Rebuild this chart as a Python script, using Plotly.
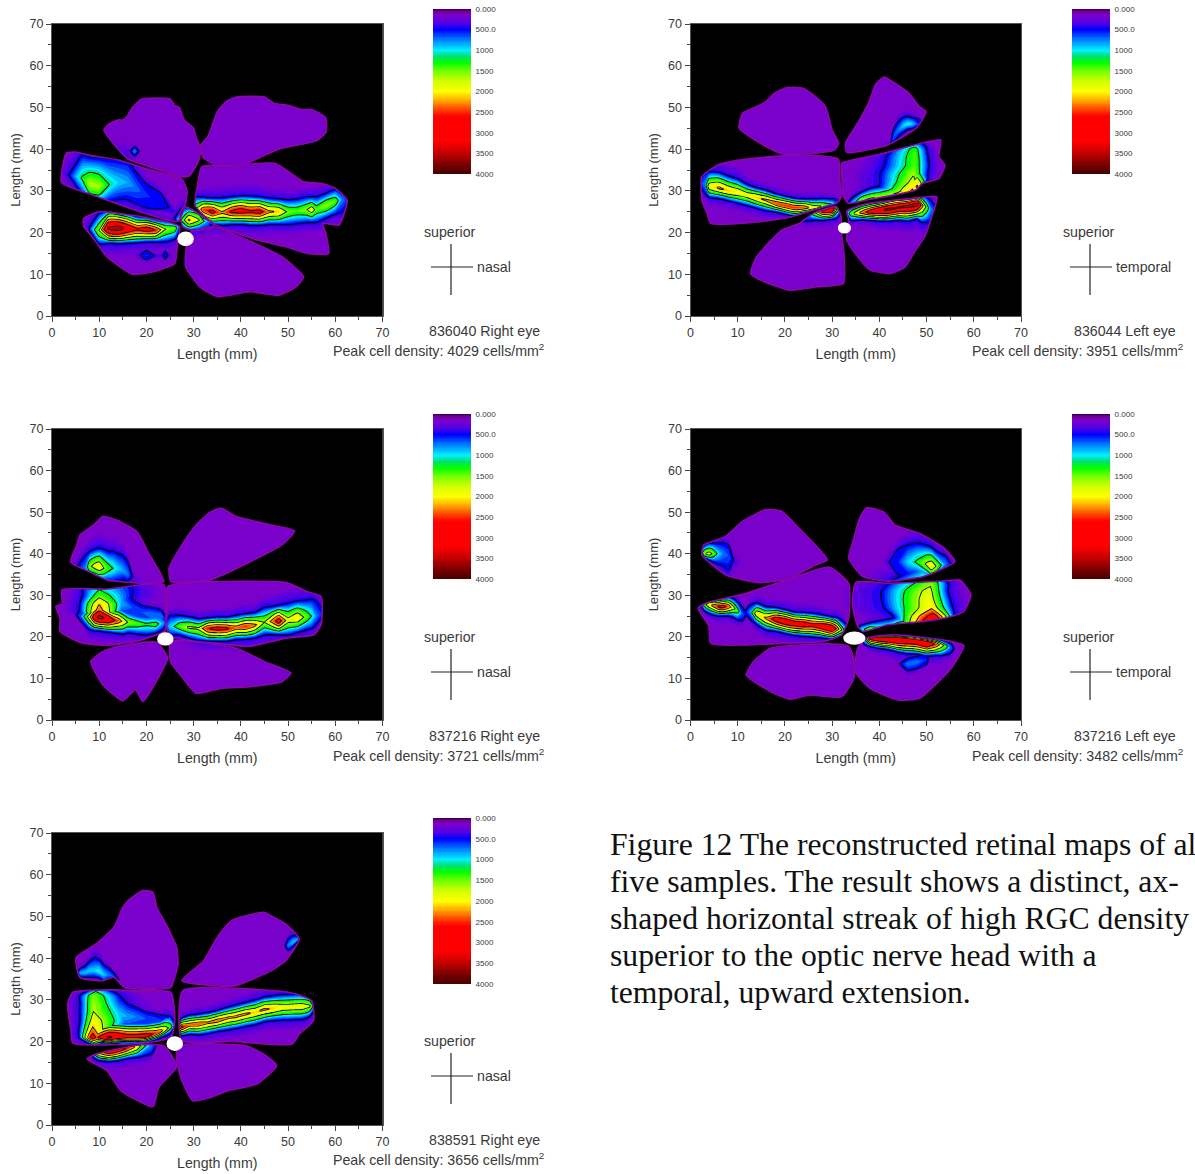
import plotly.graph_objects as go

W, H = 1195, 1174

# colour scale (density, colour)
SCALE_VALUES = [0, 60, 150, 350, 500, 750, 1000, 1150, 1300, 1500, 1750, 2000, 2200, 2400, 2600, 3200, 3500, 3800, 4000]
SCALE_COLORS = ["#2c0038", "#700098", "#7e00cc", "#5000e4", "#0000ff", "#0080ff", "#00f0ff", "#00e070", "#00ff00", "#70ff00",
                "#d0ff00", "#ffff00", "#ffb000", "#ff5000", "#ff0000", "#ff0000", "#c00000", "#700000", "#480000"]
BAR_TICKS = [0, 500, 1000, 1500, 2000, 2500, 3000, 3500, 4000]
BAR_LABELS = ["0.000", "500.0", "1000", "1500", "2000", "2500", "3000", "3500", "4000"]
AXIS_TICKS = [0, 10, 20, 30, 40, 50, 60, 70]
FILL_LEVELS = [220, 290, 360, 430, 500, 600, 700, 800, 900, 1000, 1100, 1200, 1250, 1300, 1400, 1500, 1650, 1750, 1800, 1900, 2000, 2100,
               2200, 2250, 2300, 2400, 2500, 2600, 2750, 2800, 3000, 3250, 3500, 3750]
LINE_LEVELS = [500, 1250, 1750, 2250, 2750, 3500]

SAMPLES = ["836040 Right eye", "836044 Left eye", "837216 Right eye", "837216 Left eye", "838591 Right eye"]
PEAKS = [4029, 3951, 3721, 3482, 3656]
DIRECTION = ["nasal", "temporal", "nasal", "temporal", "nasal"]
CAPTION = ["Figure 12 The reconstructed retinal maps of al", "five samples. The result shows a distinct, ax-",
           "shaped horizontal streak of high RGC density", "superior to the optic nerve head with a",
           "temporal, upward extension."]

# optic nerve head: centre x, centre y, radius x, radius y (mm)
NERVE = [(28.3, 18.5, 1.75, 1.75), (32.6, 21.1, 1.4, 1.35), (24.0, 19.5, 1.75, 1.6), (34.7, 19.7, 2.35, 1.6), (26.0, 19.5, 1.75, 1.75)]

# retina outline pieces (x, y in mm)
P1_PETALS = [
 [(19,52),(25,52),(26,50.5),(27,50),(28,47),(30,45),(30.5,43),(31.5,40),(31,37),(29,33.5),(27,33.4),(24,34.5),(20,36),(16,37.7),(14,40),(12.5,42),(11,44.5),(12,46),(14,47),(15,47),(16,48),(17,50)],
 [(39,52.5),(45,52.5),(47,51),(50,50.5),(53,49.5),(55,49.5),(58,47.5),(58,44),(56,42),(52,41),(48,40),(44,38),(40,36),(35,36),(32,38),(31.5,41),(33,43),(34,46),(35,49),(37,51.5)],
 [(2,32),(3,39),(5,39.3),(8,38.5),(14,37.4),(20,35.3),(27.5,32.8),(28.6,30),(28.3,27),(26.7,22.7),(20,24.5),(11.6,27.8),(6,30)],
 [(6.7,23.4),(10,25),(19,23.8),(27,21.5),(26.6,17.4),(26,12.6),(21.5,10.6),(17,10),(11.6,14.2),(8.5,19),(6.7,21.5)],
 [(27.1,24.6),(27.9,26.2),(29.8,25.4),(34.3,21.8),(33.5,21),(29.8,20.5),(27.7,21.4)],
 [(31.7,35.8),(37,36),(47.2,36.6),(53.3,32.2),(57,31.8),(60,30.6),(62.5,27.8),(60.8,21.8),(57.4,22.2),(58,19.8),(58.6,15),(54,15),(49.5,16.6),(43.4,18.2),(34.3,22.1),(30.3,26.5),(30.9,31.8)],
 [(29,19.8),(34.3,21.4),(41.9,18),(48.7,14.2),(53.3,9.4),(51.7,7),(48,5),(41.9,5.8),(35,4.6),(31.3,7),(28.3,11.8),(28.4,16.2)],
]
P2_PETALS = [
 [(20.4,54.8),(23.8,54.6),(26,53),(28.6,50.2),(30,44.6),(31.4,41.4),(30.5,39.8),(25.3,38.9),(19.3,38.9),(14.8,41.4),(10.3,45),(11,48.6),(15.5,51),(17.8,53.4)],
 [(41,57.3),(43.3,55.8),(46.3,53.4),(48.5,50.2),(49.9,49),(47.8,45),(41.8,41),(37.3,39.8),(33.1,39.2),(32.8,41.4),(35.8,47),(38,51.8),(39.1,55.4)],
 [(2.4,33.4),(5.8,36.2),(11.8,37.6),(22.3,38.6),(31.3,37.6),(31.6,32.6),(32,28.6),(30.9,27),(28.3,26.2),(21.5,23.8),(14.8,22.6),(4.3,22.2),(3.5,24.6),(2.4,27.8)],
 [(32,36.6),(41,39),(53,42.2),(52.6,38.2),(53.9,36.2),(52.6,33),(49.2,31.8),(47.7,30.2),(37.3,27.8),(33.5,27),(32.4,28.6),(32,35)],
 [(33.1,25.2),(37.3,26.9),(47,28.2),(52.2,28.5),(51.1,23.8),(49.6,19),(47.7,15.8),(45.5,11.8),(42.5,10.2),(38,11),(35.4,14.2),(33.1,18.2),(33.5,23)],
 [(23,22.2),(26,24.6),(30.9,26.2),(31.9,23.8),(32,19.8),(32.5,15),(32.4,7.8),(26.8,7),(20.8,6.2),(14.8,8.6),(12.7,10.2),(14,14.2),(19.3,20.6)],
]
P3_PETALS = [
 [(10.8,49),(13.9,48),(18,45.3),(20.7,39.7),(23.7,33.3),(19.2,32.9),(11.6,33.7),(7.8,35.7),(3.9,38),(5.2,42),(5.9,44.5),(8.9,47)],
 [(35.8,51),(38.9,49),(46.4,46.9),(51.4,45.5),(48.7,42.1),(41.9,38),(33.6,33.7),(25.2,33.3),(24.8,36.5),(27.5,42.1),(30.5,46.9),(33.5,50)],
 [(2.1,31.3),(11.6,31.5),(23.7,32.5),(23.9,21.3),(22.2,20.5),(17.7,18.9),(11.6,18),(6.3,18.5),(1.7,21.3),(1.7,24.5),(0.8,27.3),(2.1,28)],
 [(24.5,32.1),(29.8,33.1),(49.5,33.1),(54,30.9),(57,29.7),(57,22.9),(55.5,20.5),(49.5,19.7),(41.9,17.7),(34.3,18.5),(26,19.7),(24.5,21.3)],
 [(13.9,17.7),(22.2,18.7),(24.5,14.9),(22.9,10.9),(19.2,4.4),(17.7,7.3),(15,4.6),(10.8,8.4),(8.2,14.1),(10.8,16.5)],
 [(25.2,18.9),(38.9,17.3),(44.9,14.1),(50.6,11.3),(48.7,9.2),(41.9,8),(35.8,7.6),(30.5,6.4),(27.5,10.4),(25.1,14)],
]
P4_PETALS = [
 [(15.9,50.6),(19.3,50.2),(23,46.1),(29,38.5),(26,37),(20.8,34),(14.8,33),(7.6,34.8),(2.4,39.7),(2.8,42.1),(7.3,44.1),(11,47.8)],
 [(37.3,51.1),(41,50),(43.3,46.9),(48.5,44.9),(53.8,41.3),(56,38.1),(49.3,34.5),(41.8,33.4),(36.5,34.5),(33.5,38.9),(34.6,43.7),(35.8,48.5)],
 [(1.6,26.9),(3.2,28.1),(11.8,30.5),(19.3,33.3),(29.4,36.8),(33.5,32.9),(33.5,24.5),(32,20.5),(28.3,18.9),(19.3,18.4),(4.3,18.4),(3.9,22.5)],
 [(35,33.1),(41.8,32.9),(54.5,33.5),(57.1,33.7),(59.4,30.1),(57.9,26.1),(55.2,24.9),(49.3,23.7),(41.8,22.9),(36.5,21.3),(35.4,22.5),(34.3,27.7)],
 [(37.3,19.7),(43.3,20.5),(53.8,19.2),(57.9,17.9),(55.2,12.4),(48.5,5.2),(44,4.8),(38,7.6),(34.9,11.6),(35.4,17.3)],
 [(17,17.3),(29,18.3),(33.5,17.7),(34.6,14.8),(34.6,10),(32,5.6),(25.3,6),(21,5),(17,6.8),(11.8,10.8),(13.3,14)],
]
P5_PETALS = [
 [(19.2,56.2),(21.4,55.8),(22.2,52.2),(24.5,47.4),(26.4,42.6),(26.7,38.6),(26,35.4),(25.2,33),(15.4,32.9),(13.1,35.4),(10.8,34.6),(5.9,35.4),(5.1,40.2),(9.3,43.4),(13.1,47.4),(15,52.2),(16.5,54.2)],
 [(44.9,51),(47.6,49.4),(49.5,48.2),(52.4,44.6),(49.5,39.4),(46.5,37),(38.9,33.4),(34.3,33.4),(27.5,34.6),(32.1,39.4),(35,45),(38,49)],
 [(4.4,31.8),(13.1,32.4),(16.9,32.2),(25.2,31.8),(26,25),(25.2,21),(19.2,19.6),(4.4,19.6),(4,22.6),(3.3,29)],
 [(27.7,32.2),(47.2,32.2),(51.7,31.4),(55,29.8),(55.4,25),(52.4,21.8),(50.9,19.4),(38,20),(27.5,20.2)],
 [(7.4,15.8),(9.3,17),(19.2,19.3),(23.7,19),(26,15.4),(26.4,13.8),(22.6,9),(21.4,4.4),(14.6,8.2),(11.6,13)],
 [(26.7,19),(41.1,19),(44.9,17),(47.6,14.2),(43.4,9.8),(37.3,8.2),(33.6,6.6),(29.8,5.8),(27.5,10.6),(26.4,15.4)],
]

# density ridges: orientation, stations along the ridge, centre across it, peak density, width on + side, width on - side
P1_RIDGES = [
 ("h",[10,12,14,16,18,20,22,24,26,27],[20.5,21,21,21,20.8,20.8,20.6,20.8,21,21.5],[1700,3600,3800,3300,2800,3000,2700,1700,1500,700],[4,4.3,4,3.5,3,2.8,2.4,2,1.5,1],[3.2,3.5,3.6,3.5,3.2,3,2.8,3,2.5,1.5]),
 ("h",[27.5,29,31,33,34],[23,23,23,22.5,22.2],[1300,2300,1800,800,500],[2.8,3,2.8,2,1],[2.2,2.5,2.3,1.5,.8]),
 ("h",[30.5,32,34,36,38,40,42,44,46,48,50,52,54,55,56,58,60,61.5],[26,25.5,25,24.8,25,25.2,25,25,25,25,25,25.2,25.5,25.5,25.5,26.5,27.5,28],[1500,2500,2900,2300,2800,3000,2800,2900,2300,2200,1600,1500,1700,2000,1500,1700,1500,800],[2.5,2.9,3.2,3.5,3.5,3.5,3.7,3.5,3.2,3,2.8,2.8,3,3,3,2.8,2.8,2],[3,3,3,3,3,3.2,3.2,3.2,3,3,3,3,3,3,3,3,3,3]),
 ("h",[6.5,8,10,12,14,16,18,20,23,26],[33,31.5,31,31.5,32,32,30.5,29,27.3,25],[1300,1750,1700,1250,1000,900,750,620,550,450],[5.5,6.5,6.8,6,5.5,5,3.5,2.5,2,1],[4,4.5,4.5,4,4,4,3.5,3,1.5,1]),
 ("h",[16.5,17.5,18.5],[39.5,39.5,39.5],[400,850,400],[1,1,1],[1,1,1]),
 ("h",[18,20,22,23,24,25],[14.6,14.6,14.4,14.4,14.6,14.6],[400,620,450,400,560,400],[1,1,.8,.8,.8,.8],[1,1,.8,.8,.8,.8]),
]
P2_RIDGES = [
 ("h",[3,4,6,8,10,12,14,16,18,20,22,24,26,28,30,31],[31.5,31,30.7,30,29.6,29,28.4,27.8,27,26.5,26,26,26,26.3,26.5,27],[800,2000,2300,2200,2100,2000,2200,2300,2500,2600,2600,2500,2000,1700,1300,700],[3,3.5,3.7,3.5,3.2,2.5,2.3,2.3,2.3,2.2,2.2,2,2,1.8,1.5,1],[2,2.5,2.5,2.3,2.5,2.5,2.5,2.5,2,2,2,1.5,1,1,1,.8]),
 ("h",[24,26,28,30,31],[24.2,25,25,25.5,25.5],[700,1600,2800,3200,1500],[1.5,1.5,1.5,1.5,1.5],[1.5,2,2,2.2,2]),
 ("h",[34,36,38,40,42,44,46,48,49,50,51],[24.5,24.8,25,25.3,25.6,26,26.3,26.8,26.5,26,25.5],[1500,2300,3000,3400,3600,3500,3600,3700,2400,1500,800],[2,2,2.2,2.2,2.5,2.5,2.3,2,2.3,2.5,2],[1.5,1.7,2,2.5,2.8,3,3.5,3.5,4,3.5,3]),
 ("h",[34,36,38,40,42,44,46,47,48],[26.5,27.5,28,28.5,29,29.3,30,30.5,31],[1000,1700,1800,1700,1700,1800,1900,2000,2300],[1.5,2,2.5,2.5,2.5,4,6,6,6],[1,1.5,1.5,1.5,1.5,1.5,1.5,1.5,1.5]),
 ("v",[30,32,34,36,38,40,41],[47,47.2,47.2,47.5,47.5,47.5,47.5],[2300,1900,1700,1500,1500,1400,1000],[3,3,3,3,2.8,2.5,2],[7,7,7,6.5,6,5,4]),
 ("h",[42.5,43,44,45,46,47,48.5],[41.5,43,44.5,45.5,46,46,46],[500,700,800,1000,1100,1000,600],[1,1.5,2,2,1.8,1.5,1],[1,1.5,1.5,1.5,1.2,1,.8]),
]
P3_RIDGES = [
 ("h",[25,27,29,31,33,35,37,39,41,43,45,47,48,50,52,54,55,56],[22.5,22.5,22.3,22,22,22,22,22.2,22.5,22.8,23.5,23.8,23.8,24,24.6,24.8,25,25],[1000,1500,1800,1800,2700,2900,2800,2400,2600,2300,1700,2500,3000,1900,2100,1500,1200,800],[2.5,2.6,2.5,2.3,2.5,2.7,2.7,2.9,3,3,3.5,3.5,3.7,4,4,4,4,3.5],[2,2,2.5,2.8,3,3,3,2.8,3,3,3,3.2,3.2,3.5,3.5,3,3,2]),
 ("h",[6,8,9,10,11,12,13,14,15,16,18,20,22,23.5],[25,24.8,24.7,24.7,24.5,24.2,24,23.9,23.7,23.5,23.2,23,23,23.3],[700,2000,3100,3700,3500,3300,2800,2500,2100,1700,1500,1300,1400,900],[1.5,2.5,3.5,4,3.5,3,3,3,2.8,2.5,2,2,2,1.5],[1,3,3.2,3.2,3.2,3,3,3,3,2.5,2.5,2.5,2,1.5]),
 ("v",[26,28,30,32],[10,10,10,10],[2500,2200,1500,1100],[5,6,7,7],[4,4,3.5,3.5]),
 ("h",[15,17,19,21,23],[28,27,26,25.5,25],[900,700,700,800,800],[3,2,1.5,1.5,1.5],[3,3,3,3,3]),
 ("h",[7,8,9,10,11,12,13,14,15,16,17],[36.5,37,37,36.8,36.5,36.5,36.5,36.5,36,35,34.5],[800,1600,1900,2100,1700,1400,1200,1000,900,800,500],[3,3.5,4,4.5,4.5,4,4,3.5,3.5,3,2],[2,3,3,3,3,3,3,3,2,1.5,1]),
]
P4_RIDGES = [
 ("h",[3,4,5,6,7,8,9,10,11],[27.8,27.7,27.5,27.3,27.3,27.3,27,26.3,25.5],[1500,2100,2400,2800,2900,2500,1900,1400,700],[1.2,1.5,1.5,1.8,2,2.2,2.2,2,1.5],[1.5,2,2.2,2.2,2.2,2.2,2.2,2.2,1.5]),
 ("h",[12.5,14,16,18,20,22,24,26,28,30,31,32.5],[26,25.6,24.5,24.2,23.7,23.2,23,22.8,22.5,22,22,21.5],[800,2000,2300,3000,3200,3100,3100,2900,3200,3300,2500,1300],[1.5,2.5,2.7,2.8,2.8,2.7,2.8,2.8,2.7,2.7,2.6,2],[1.5,2.5,2.8,2.8,2.8,2.8,2.8,2.8,2.7,2.5,2.2,2]),
 ("h",[37,38,40,42,44,46,48,50,52,53,54,55],[19.7,19.6,19.5,19.5,19.4,19.2,18.9,18.5,18.2,18,17.8,17.5],[1500,2800,3200,3400,3500,3300,3200,3400,2600,2000,1500,800],[1,1,1,1,1,1.2,1.3,1.3,1.3,1.2,1,1],[1.5,1.8,2.2,2.5,3,3.2,3,3,2.6,2.5,2,1.5]),
 ("h",[36,38,40,42,44,46,48,50,52],[21.7,21.8,22,22.2,22.8,23,24,24,24],[1000,1600,1300,1300,1500,1700,2000,3000,3400],[1,1.5,1.8,2,2,2,2,3,3],[1,1,1,1,1,1,1.2,1.2,1]),
 ("v",[23.5,25,27,29,31,33],[51.5,51.5,51,50.5,50.5,51],[3500,3000,2100,2000,1900,1600],[4.5,4.5,4.5,4.5,4,3.5],[8,8.5,10,10,10,9]),
 ("h",[44,46,48,50,51,52,54],[38,38,38,37.5,37,37,37.5],[600,1000,1300,1800,2100,1700,800],[3,4,4.5,4.5,4.5,3.5,2],[3,3,3,3,3,3,2]),
 ("h",[3,4,5,6,7,8,9],[40,40,40,40,40,39.5,38.5],[1700,1900,1500,1000,800,700,500],[2,2.5,2.5,2.5,2.5,2.5,2.5],[1,1.5,2,2.5,3,3.5,3.5]),
 ("h",[44.5,46,48,50,50.5],[13.5,13.5,14,14.5,14.5],[500,800,800,600,400],[1.2,1.2,1.2,1,1],[1.2,1.5,1.5,1,1]),
]
P5_RIDGES = [
 ("h",[27.5,29,31,33,35,37,39,41,43,45,47,49,51,53,54.5],[23.5,24,24.2,24.5,25,25.6,26,26.6,27,27.7,28,28.2,28.3,28.4,28.5],[2800,2400,2500,2300,2400,2300,2300,2300,2200,2300,2200,2000,2000,2000,1800],[2,2.2,2.3,2.4,2.4,2.5,2.7,2.7,2.9,2.9,2.9,3,3,3,2.5],[2,2.2,2.5,2.5,2.5,2.8,2.8,2.9,2.9,2.9,2.9,3,3,3,2.5]),
 ("h",[8,10,12,14,16,18,20,22,23,24,25],[21,21,21,21.2,21.2,21.2,21.4,22,22.5,23,23.5],[1700,2800,3600,3300,3000,3000,3000,2600,2400,2000,1500],[2,3,3.5,3.3,3.2,3.2,3,2.8,2.5,2.8,2.5],[1.5,1.5,1.5,1.5,1.5,1.5,1.5,1.5,1.5,1.5,1.5]),
 ("v",[21,23,25,27,29,31],[8.6,8.6,8.8,8.8,8.8,8.8],[3000,2300,2000,1750,1700,1600],[4,6,8,8,6.5,5.5],[2.8,2.8,2.8,2.8,2.8,2.8]),
 ("h",[12,14,16,18,20,22,24.5],[26.5,26.5,26,26,25.5,25,24.5],[1100,1000,900,800,700,700,600],[4.5,4.5,3,2,1.5,1.5,1.5],[3,3,3,3,3,3,3]),
 ("h",[9,10,12,14,16,18,19,21,22],[17.5,17.5,17.5,18,18.5,18.8,19,19,19],[1500,2400,3000,3000,2700,2100,1500,800,500],[1,1.5,1.5,1.5,1.3,1,1,.8,.5],[1.5,2,2.2,2.5,2.5,2.5,2.5,2,1]),
 ("h",[6,7,8,9,10,11,12,13,14],[36.5,36.5,37,37,36.8,36,36,35.5,35],[900,1000,1000,1000,1100,1000,800,700,500],[1,1.5,2.2,3,2.8,2.2,1.6,1,1],[1,1,1.5,1.5,1.5,1.5,1,1,.5]),
 ("h",[49.5,50,51,52],[43,43,43.8,44.5],[500,800,1000,900],[1,1.5,1.5,.8],[1,1,1,.5]),
]
ALL_PETALS = [P1_PETALS, P2_PETALS, P3_PETALS, P4_PETALS, P5_PETALS]
ALL_RIDGES = [P1_RIDGES, P2_RIDGES, P3_RIDGES, P4_RIDGES, P5_RIDGES]

PETAL_FILL = "#7a00cc"
PETAL_EDGE = "#8a08a6"
TEXT = "#3a3a3a"
FONT = "Liberation Sans"

# pixel frames of each panel
PLOT_X = [(52, 382.5), (690.5, 1021), (52, 382.5), (690.5, 1021), (52, 382.5)]
PLOT_Y = [(24, 316), (24, 316), (429, 720), (429, 720), (833, 1125)]
BAR_X = [(433, 471), (1072, 1110), (433, 471), (1072, 1110), (433, 471)]
BAR_Y = [(9, 174), (9, 174), (414, 579), (414, 579), (818, 984)]


def px(x):
    return x / W


def py(y):
    return 1 - y / H


def rgb(hexs):
    return tuple(int(hexs[i:i + 2], 16) for i in (1, 3, 5))


def level_color(v):
    for i in range(len(SCALE_VALUES) - 1):
        a, b = SCALE_VALUES[i], SCALE_VALUES[i + 1]
        if a <= v <= b:
            t = (v - a) / (b - a)
            ca, cb = rgb(SCALE_COLORS[i]), rgb(SCALE_COLORS[i + 1])
            return "rgb(%d,%d,%d)" % tuple(round(ca[k] + (cb[k] - ca[k]) * t) for k in range(3))
    return SCALE_COLORS[-1]


def spread(p, L):
    if p <= L:
        return 0.0
    if p > 500:
        if L >= 500:
            return ((p - L) / (p - 500)) ** 0.9
        return 1 + (500 - L) / 280 * 0.8
    return (p - L) / (p - 200)


def ring_area(pts):
    return sum(pts[i][0] * pts[(i + 1) % len(pts)][1] - pts[(i + 1) % len(pts)][0] * pts[i][1] for i in range(len(pts)))


def ridge_outline(ridge, L):
    """Closed outlines of one ridge at density L, joined with gaps, all running counter-clockwise."""
    kind, s, c, pk, wp, wm = ridge
    xs, ys = [], []
    runs, up, dn = [], [], []
    last = len(s) - 1

    def flush():
        nonlocal up, dn
        if len(up) > 1:
            runs.append(up + dn[::-1])
        up, dn = [], []

    for i in range(len(s)):
        if pk[i] > L:
            f = spread(pk[i], L)
            if i == 0:
                cap = (wp[i] + wm[i]) * f * 0.3
                up.append((s[i] - cap, c[i] + (wp[i] - wm[i]) * f / 2))
                dn.append((s[i] - cap, c[i] + (wp[i] - wm[i]) * f / 2))
            up.append((s[i], c[i] + wp[i] * f))
            dn.append((s[i], c[i] - wm[i] * f))
            if i == last:
                cap = (wp[i] + wm[i]) * f * 0.3
                up.append((s[i] + cap, c[i] + (wp[i] - wm[i]) * f / 2))
                dn.append((s[i] + cap, c[i] + (wp[i] - wm[i]) * f / 2))
        if i < last and (pk[i] > L) != (pk[i + 1] > L):
            t = (L - pk[i]) / (pk[i + 1] - pk[i])
            sx, cx = s[i] + (s[i + 1] - s[i]) * t, c[i] + (c[i + 1] - c[i]) * t
            up.append((sx, cx))
            dn.append((sx, cx))
            if pk[i] > L:
                flush()
    flush()
    for r in runs:
        pts = [(a, b) if kind == "h" else (b, a) for a, b in r]
        if ring_area(pts) < 0:
            pts = pts[::-1]
        pts = pts + [pts[0]]
        xs += [p[0] for p in pts] + [None]
        ys += [p[1] for p in pts] + [None]
    return xs, ys


fig = go.Figure()
colorscale = [[v / 4000, c] for v, c in zip(SCALE_VALUES, SCALE_COLORS)]
layout = {}
shapes = []
ann = []
CURVE = dict(shape="spline", smoothing=0.5)


def label(x, y, text, size=14.2, anchor="center", color=TEXT, family=FONT):
    ann.append(dict(x=px(x), y=py(y), xref="paper", yref="paper", text=text, showarrow=False, xanchor=anchor, yanchor="middle",
                    font=dict(size=size, color=color, family=family)))


for n in range(5):
    ax = n + 1
    xa, ya = ("x", "y") if n == 0 else (f"x{ax}", f"y{ax}")
    bxa, bya = f"x{ax + 5}", f"y{ax + 5}"

    def add(**kw):
        fig.add_trace(go.Scatter(xaxis=xa, yaxis=ya, showlegend=False, hoverinfo="skip", **kw))

    def filled(xs, ys, color):
        add(x=xs, y=ys, mode="lines", line=dict(width=0, color=color, **CURVE), fill="toself", fillcolor=color)

    # retina pieces
    px_, py_ = [], []
    for poly in ALL_PETALS[n]:
        pts = poly + [poly[0]]
        px_ += [p[0] for p in pts] + [None]
        py_ += [p[1] for p in pts] + [None]
    filled(px_, py_, PETAL_FILL)

    # density bands, low to high; a contour line sits under its own band so only the outer edge of the union shows
    for L in FILL_LEVELS:
        xs, ys = [], []
        for r in ALL_RIDGES[n]:
            a, b = ridge_outline(r, L)
            xs += a
            ys += b
        if not xs:
            continue
        if L in LINE_LEVELS:
            add(x=xs, y=ys, mode="lines", line=dict(color="#05051c" if L == 500 else "#101010", width=2.2 if L == 500 else 1.8, **CURVE))
        filled(xs, ys, level_color(L))

    # black surround with the retina pieces left open: outer ring counter-clockwise, openings clockwise
    mx, my = [-20, 90, 90, -20, -20, None], [-20, -20, 90, 90, -20, None]
    for poly in ALL_PETALS[n]:
        pts = poly[::-1] if ring_area(poly) > 0 else poly
        pts = pts + [pts[0]]
        mx += [p[0] for p in pts] + [None]
        my += [p[1] for p in pts] + [None]
    filled(mx, my, "#000000")
    add(x=px_, y=py_, mode="lines", line=dict(color=PETAL_EDGE, width=1.6, **CURVE))

    # colour bar
    vals = list(range(0, 4001, 20))
    fig.add_trace(go.Heatmap(xaxis=bxa, yaxis=bya, x=[0, 1], y=vals, z=[[v, v] for v in vals], zmin=0, zmax=4000,
                             colorscale=colorscale, showscale=False, hoverinfo="skip"))

    x0, x1 = PLOT_X[n]
    y0, y1 = PLOT_Y[n]
    tick = dict(range=[0, 70], tickvals=AXIS_TICKS, ticks="outside", ticklen=5, tickwidth=1, tickcolor="#444", linecolor="#555",
                linewidth=1, showgrid=False, zeroline=False, mirror=True, showline=True, automargin=False,
                minor=dict(dtick=5, tick0=0, ticks="outside", ticklen=3, tickwidth=1, tickcolor="#444", showgrid=False),
                tickfont=dict(family=FONT, size=12.5, color=TEXT))
    layout["xaxis" if n == 0 else f"xaxis{ax}"] = dict(tick, domain=[px(x0), px(x1)], anchor=ya,
        title=dict(text="Length (mm)", standoff=10, font=dict(family=FONT, size=14.2, color=TEXT)))
    layout["yaxis" if n == 0 else f"yaxis{ax}"] = dict(tick, domain=[py(y1), py(y0)], anchor=xa,
        title=dict(text="Length (mm)", standoff=6, font=dict(family=FONT, size=13, color=TEXT)))
    bx0, bx1 = BAR_X[n]
    by0, by1 = BAR_Y[n]
    layout[f"xaxis{ax + 5}"] = dict(domain=[px(bx0), px(bx1)], anchor=bya, range=[0, 1], visible=False, automargin=False)
    layout[f"yaxis{ax + 5}"] = dict(domain=[py(by1), py(by0)], anchor=bxa, range=[4000, 0], side="right", tickvals=BAR_TICKS,
                                    ticktext=BAR_LABELS, ticks="outside", ticklen=2, tickcolor="rgba(0,0,0,0)", showline=False,
                                    showgrid=False, zeroline=False, automargin=False,
                                    tickfont=dict(family=FONT, size=8, color=TEXT))

    # optic nerve head
    cx, cy, rx, ry = NERVE[n]
    shapes.append(dict(type="circle", xref=xa, yref=ya, x0=cx - rx, x1=cx + rx, y0=cy - ry, y1=cy + ry,
                       fillcolor="white", line=dict(width=0), layer="above"))

    # orientation cross and labels
    bx = bx0 + 18
    oy = y0 + 243
    shapes.append(dict(type="line", xref="paper", yref="paper", x0=px(bx - 20), x1=px(bx + 22), y0=py(oy), y1=py(oy), line=dict(color="#222", width=1.2)))
    shapes.append(dict(type="line", xref="paper", yref="paper", x0=px(bx), x1=px(bx), y0=py(oy - 23), y1=py(oy + 28), line=dict(color="#222", width=1.2)))
    label(bx - 1, oy - 35, "superior")
    label(bx + 24, oy, DIRECTION[n], anchor="left")
    label(x0 + 432 + (2 if n % 2 else 0), y0 + 307, SAMPLES[n])
    label(x0 + 495, y0 + 326, f"Peak cell density: {PEAKS[n]} cells/mm<sup>2</sup>", anchor="right", size=14.2)

for i, line in enumerate(CAPTION):
    label(608, 845 + i * 36.9, line, size=31.7, anchor="left", color="#111", family="Liberation Serif")

fig.update_layout(width=W, height=H, margin=dict(l=0, r=0, t=0, b=0), paper_bgcolor="white", plot_bgcolor="black",
                  showlegend=False, shapes=shapes, annotations=ann, **layout)
fig.write_html("out.html", config=dict(displayModeBar=False),
               post_script="document.body.style.margin='0';document.body.style.overflow='hidden';")
